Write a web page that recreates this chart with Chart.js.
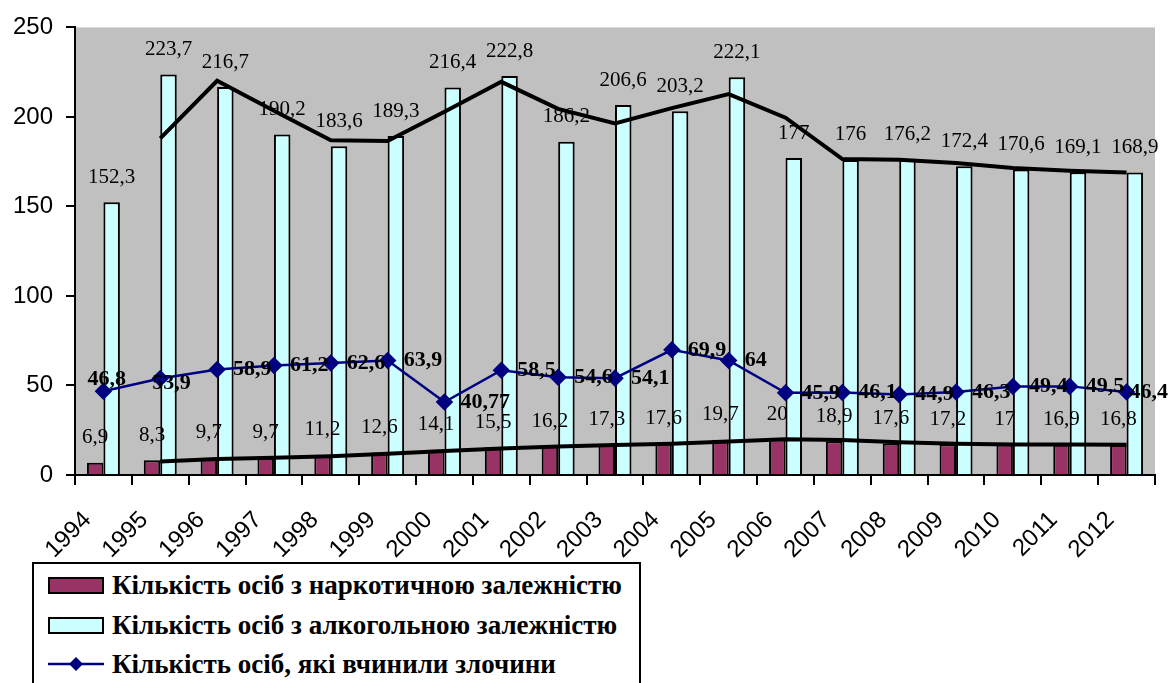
<!DOCTYPE html>
<html>
<head>
<meta charset="utf-8">
<script src="https://cdn.jsdelivr.net/npm/chart.js@4.4.0/dist/chart.umd.min.js"></script>
<style>
  body { margin: 0; background: #fff; }
  #wrap { position: relative; width: 1169px; height: 683px; overflow: hidden; }
  #legend {
    position: absolute; left: 32px; top: 562px; width: 609px; height: 140px;
    border: 2px solid #000; box-sizing: border-box; background: #fff;
    font-family: "Liberation Serif", "Times New Roman", serif; font-weight: 700; font-size: 27px; color: #000;
  }
  .row { position: absolute; left: 14px; height: 34px; display: flex; align-items: center; white-space: nowrap; }
  .sw { width: 56px; height: 17px; border: 2px solid #000; box-sizing: border-box; margin-right: 8px; }
</style>
</head>
<body>
<div id="wrap">
  <canvas id="myChart" width="1169" height="683"></canvas>
  <div id="legend">
    <div class="row" style="top:4px"><div class="sw" style="background:#993366"></div>Кількість осіб з наркотичною залежністю</div>
    <div class="row" style="top:44px"><div class="sw" style="background:#ccffff"></div>Кількість осіб з алкогольною залежністю</div>
    <div class="row" style="top:83px">
      <svg width="56" height="18" style="margin-right:8px"><line x1="0" y1="9" x2="56" y2="9" stroke="#000080" stroke-width="2.5"/><polygon points="28,2 35,9 28,16 21,9" fill="#000080"/></svg>Кількість осіб, які вчинили злочини
    </div>
  </div>
</div>
<script>
  // дані графіка
  const years = ['1994', '1995', '1996', '1997', '1998', '1999', '2000', '2001', '2002', '2003',
    '2004', '2005', '2006', '2007', '2008', '2009', '2010', '2011', '2012'];

  const narco = [6.9, 8.3, 9.7, 9.7, 11.2, 12.6, 14.1, 15.5, 16.2, 17.3,
    17.6, 19.7, 20, 18.9, 17.6, 17.2, 17, 16.9, 16.8];

  const alco = [152.3, 223.7, 216.7, 190.2, 183.6, 189.3, 216.4, 222.8, 186.2, 206.6,
    203.2, 222.1, 177, 176, 176.2, 172.4, 170.6, 169.1, 168.9];

  const crimes = [46.8, 53.9, 58.9, 61.2, 62.6, 63.9, 40.77, 58.5, 54.6, 54.1,
    69.9, 64, 45.9, 46.1, 44.9, 46.3, 49.4, 49.5, 46.4];

  // лінії тренду (ковзне середнє)
  const narcoTrend = [null, 7.6, 9, 9.7, 10.5, 11.9, 13.4, 14.8, 15.9, 16.8,
    17.5, 18.7, 19.9, 19.5, 18.3, 17.4, 17.1, 17, 16.9];

  const alcoTrend = [null, 188, 220.2, 203.5, 186.9, 186.5, 202.9, 219.6, 204.5, 196.4,
    204.9, 212.7, 199.6, 176.5, 176.1, 174.3, 171.5, 169.9, 169];

  const yTicks = [0, 50, 100, 150, 200, 250];

  // фон області побудови
  const plotBg = {
    id: 'plotBg',
    beforeDraw(chart) {
      const a = chart.chartArea;
      const ctx = chart.ctx;
      ctx.save();
      ctx.fillStyle = '#c0c0c0';
      ctx.fillRect(a.left, a.top, a.right - a.left, a.bottom - a.top);
      ctx.restore();
    }
  };

  // підписи значень
  const valueLabels = {
    id: 'valueLabels',
    afterDatasetsDraw(chart, args, opts) {
      const ctx = chart.ctx;
      ctx.save();
      ctx.textBaseline = 'middle';
      ctx.fillStyle = '#000';
      chart.data.datasets.forEach((ds, i) => {
        if (!ds.labelMode) return;
        const meta = chart.getDatasetMeta(i);
        meta.data.forEach((el, j) => {
          const v = ds.data[j];
          if (v == null) return;
          const txt = String(v).replace('.', ',');
          if (ds.labelMode === 'top') {
            ctx.font = '21px "Liberation Serif", "Times New Roman", serif';
            ctx.textAlign = 'center';
            ctx.fillText(txt, el.x, el.y - 25);
          } else {
            const s = (opts.shift && opts.shift[j]) || [16, 0];
            ctx.font = 'bold 22px "Liberation Serif", "Times New Roman", serif';
            ctx.textAlign = 'left';
            ctx.fillText(txt, el.x + s[0], el.y + s[1]);
          }
        });
      });
      ctx.restore();
    }
  };

  const data = {
    labels: years,
    datasets: [{
      type: 'line',
      label: 'Кількість осіб, які вчинили злочини',
      data: crimes,
      borderColor: '#000080',
      backgroundColor: '#000080',
      borderWidth: 2.5,
      pointStyle: 'rectRot',
      pointRadius: 7,
      tension: 0,
      order: 1,
      labelMode: 'right'
    }, {
      type: 'line',
      label: 'trend alco',
      data: alcoTrend,
      borderColor: '#000',
      borderWidth: 4,
      pointRadius: 0,
      tension: 0,
      order: 2
    }, {
      type: 'line',
      label: 'trend narco',
      data: narcoTrend,
      borderColor: '#000',
      borderWidth: 4,
      pointRadius: 0,
      tension: 0,
      order: 2
    }, {
      label: 'Кількість осіб з наркотичною залежністю',
      data: narco,
      backgroundColor: '#993366',
      borderColor: '#000',
      borderWidth: 2,
      order: 3,
      labelMode: 'top'
    }, {
      label: 'Кількість осіб з алкогольною залежністю',
      data: alco,
      backgroundColor: '#ccffff',
      borderColor: '#000',
      borderWidth: 2,
      order: 3,
      labelMode: 'top'
    }]
  };

  const config = {
    type: 'bar',
    data: data,
    plugins: [plotBg, valueLabels],
    options: {
      responsive: false,
      animation: false,
      layout: { padding: { top: 21, right: 14, left: 0, bottom: 0 } },
      datasets: { bar: { categoryPercentage: 0.58, barPercentage: 1 } },
      plugins: {
        legend: { display: false },
        tooltip: { enabled: false },
        valueLabels: { shift: { 0: [-16, -12], 1: [-8, 5], 18: [3, 0] } }
      },
      scales: {
        x: {
          grid: { drawOnChartArea: false, color: '#000', lineWidth: 2, tickLength: 10, offset: true },
          border: { color: '#000', width: 2 },
          ticks: {
            color: '#000', autoSkip: false, minRotation: 45, maxRotation: 45,
            labelOffset: -16, padding: 21,
            font: { family: '"Liberation Sans", Arial, sans-serif', size: 24 }
          },
          afterFit(scale) { scale.height = 208; }
        },
        y: {
          min: 0, max: 250,
          grid: { drawOnChartArea: false, color: '#000', lineWidth: 2, tickLength: 9 },
          border: { color: '#000', width: 2 },
          afterBuildTicks(scale) { scale.ticks = yTicks.map(v => ({ value: v })); },
          ticks: {
            color: '#000', padding: 13,
            font: { family: '"Liberation Sans", Arial, sans-serif', size: 24 }
          },
          afterFit(scale) { scale.width = 75; }
        }
      }
    }
  };

  const myChart = new Chart(document.getElementById('myChart'), config);
</script>
</body>
</html>
